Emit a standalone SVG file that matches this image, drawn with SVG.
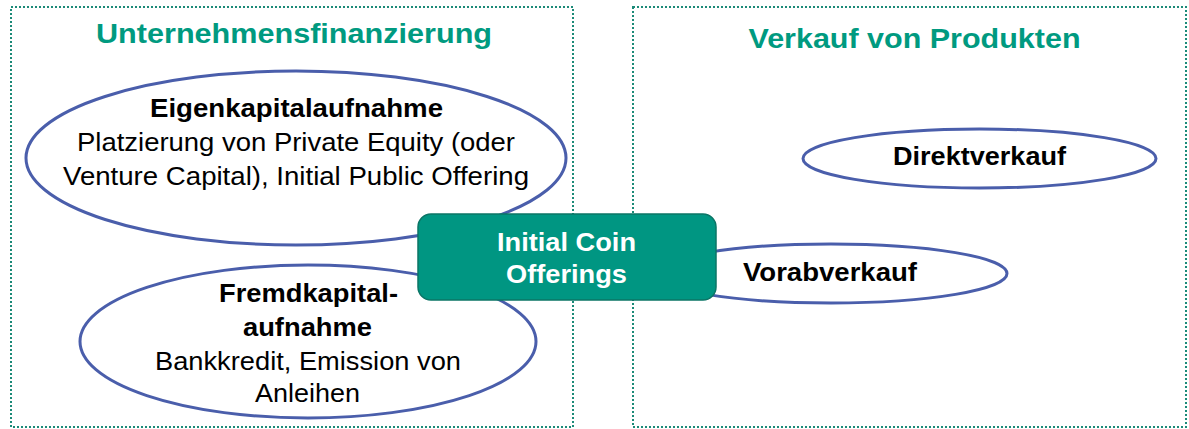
<svg xmlns="http://www.w3.org/2000/svg" width="1189" height="429" viewBox="0 0 1189 429">
<style>
.frame{fill:none;stroke:#1b8a78;stroke-width:2;stroke-dasharray:2 2}
.title{font-family:"Liberation Sans",Arial,sans-serif;font-weight:bold;font-size:28px;fill:#009a80;text-anchor:middle}
.ell{fill:#fff;stroke:#4a5eab;stroke-width:3}
.t{font-family:"Liberation Sans",Arial,sans-serif;font-size:25px;fill:#000;text-anchor:middle}
.b{font-weight:bold}
.ico{fill:#009682;stroke:#0b7566;stroke-width:1.5}
.w{fill:#fff;font-weight:bold;font-size:26px}
</style>
<g id="frame-left"><rect class="frame" x="11" y="7" width="562" height="420"/><text class="title" x="294" y="43" textLength="396" lengthAdjust="spacingAndGlyphs">Unternehmensfinanzierung</text></g>
<g id="frame-right"><rect class="frame" x="633" y="7" width="553" height="420"/><text class="title" x="914.5" y="48" textLength="332" lengthAdjust="spacingAndGlyphs">Verkauf von Produkten</text></g>
<g id="connectors"></g>
<g id="eigenkapital"><ellipse class="ell" cx="296" cy="158" rx="270" ry="87"/>
<text class="t b" x="296.5" y="117" textLength="293" lengthAdjust="spacingAndGlyphs">Eigenkapitalaufnahme</text>
<text class="t" x="296" y="151" textLength="438" lengthAdjust="spacingAndGlyphs">Platzierung von Private Equity (oder</text>
<text class="t" x="296" y="185" textLength="466" lengthAdjust="spacingAndGlyphs">Venture Capital), Initial Public Offering</text></g>
<g id="fremdkapital"><ellipse class="ell" cx="308" cy="341.5" rx="228" ry="76.5"/>
<text class="t b" x="308.5" y="302" textLength="179" lengthAdjust="spacingAndGlyphs">Fremdkapital-</text>
<text class="t b" x="307.5" y="336" textLength="129" lengthAdjust="spacingAndGlyphs">aufnahme</text>
<text class="t" x="308" y="370" textLength="306" lengthAdjust="spacingAndGlyphs">Bankkredit, Emission von</text>
<text class="t" x="307.5" y="402" textLength="105" lengthAdjust="spacingAndGlyphs">Anleihen</text></g>
<g id="direktverkauf"><ellipse class="ell" cx="979.5" cy="158.5" rx="176.5" ry="29.5"/>
<text class="t b" x="979.5" y="165" textLength="173" lengthAdjust="spacingAndGlyphs">Direktverkauf</text></g>
<g id="vorabverkauf"><ellipse class="ell" cx="831" cy="273.5" rx="176" ry="29.5"/>
<text class="t b" x="830" y="281" textLength="174" lengthAdjust="spacingAndGlyphs">Vorabverkauf</text></g>
<g id="ico"><rect class="ico" x="418" y="214" width="298" height="86" rx="13"/>
<text class="t w" x="566.5" y="251" textLength="139" lengthAdjust="spacingAndGlyphs">Initial Coin</text>
<text class="t w" x="566.5" y="283" textLength="121" lengthAdjust="spacingAndGlyphs">Offerings</text></g>
</svg>
